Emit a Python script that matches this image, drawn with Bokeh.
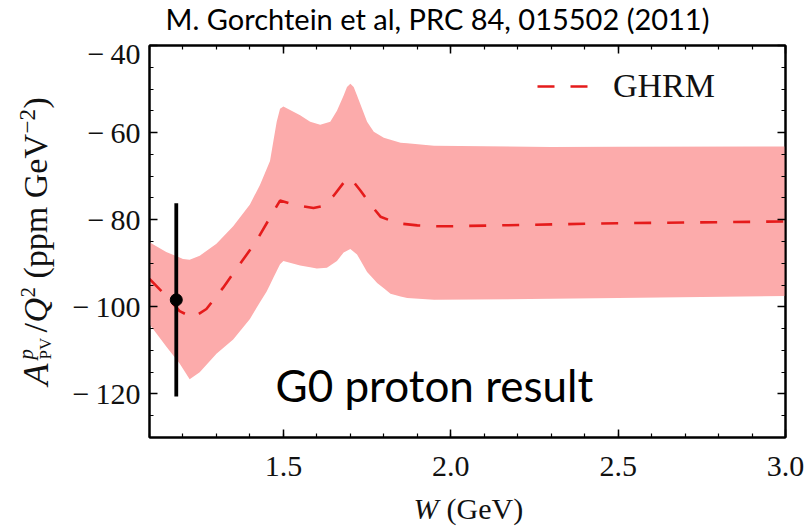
import numpy as np
from bokeh.plotting import figure
from bokeh.layouts import column, row
from bokeh.models import (LinearAxis, SingleIntervalTicker, CustomJSTickFormatter,
                          NumeralTickFormatter, Label, Legend, LegendItem, ColumnDataSource)
from bokeh.embed import file_html
from bokeh.resources import INLINE

# ---------------- data ----------------
band_upper_w = [1.10, 1.15, 1.20, 1.22, 1.25, 1.30, 1.35, 1.40, 1.43, 1.46, 1.47, 1.48, 1.49, 1.50,
                1.55, 1.58, 1.61, 1.64, 1.66, 1.68, 1.69, 1.70, 1.71, 1.73, 1.75, 1.77, 1.80,
                1.85, 1.95, 2.30, 3.00]
band_upper = [-85.2, -87.4, -89.0, -89.2, -88.3, -85.5, -81.5, -76.5, -72.0, -66.5, -62.0, -57.5, -54.5, -54.0,
              -56.0, -57.5, -58.2, -57.5, -55.0, -51.5, -49.5, -48.8, -49.5, -53.5, -57.5, -59.8, -61.2,
              -62.3, -63.0, -63.3, -63.2]

band_lower_w = [1.10, 1.15, 1.19, 1.22, 1.25, 1.30, 1.35, 1.40, 1.42, 1.45, 1.49, 1.50, 1.55, 1.60,
                1.63, 1.66, 1.68, 1.70, 1.72, 1.75, 1.78, 1.82, 1.87, 1.95, 2.50, 3.00]
band_lower = [-104.0, -109.1, -113.0, -116.6, -115.0, -110.8, -107.5, -102.8, -100.2, -96.5, -90.2, -89.5, -90.5, -91.2,
              -91.0, -89.5, -87.5, -86.7, -88.0, -92.0, -94.5, -97.0, -98.0, -98.4, -98.0, -97.5]

ghrm_w = [1.10, 1.15, 1.19, 1.23, 1.27, 1.32, 1.37, 1.42, 1.46, 1.49, 1.52, 1.55, 1.59, 1.62,
          1.65, 1.68, 1.70, 1.73, 1.76, 1.79, 1.84, 1.90, 1.96, 2.00, 2.50, 3.00]
ghrm = [-93.6, -97.5, -101.0, -102.5, -100.5, -95.6, -90.2, -84.8, -79.5, -75.6, -76.3, -76.8, -77.3, -76.8,
        -74.5, -71.5, -70.4, -73.3, -76.5, -79.3, -80.8, -81.3, -81.5, -81.5, -80.8, -80.4]

g0_w = [1.18]
g0_val = [-98.4]
g0_err = [22.2]

x_ticks_interval = 0.5
y_ticks_interval = 20

title_text = "M. Gorchtein et al, PRC 84, 015502 (2011)"
note_text = "G0 proton result"
legend_text = "GHRM"

serif = "Liberation Serif"
sans = "Lato"

# ---------------- layout sizes ----------------
TOTAL_W = 804
TITLE_H = 36
MAIN_H = 454
XLAB_H = 38
YLAB_W = 58


def text_panel(w, h):
    f = figure(width=w, height=h, x_range=(0, 1), y_range=(0, 1),
               x_axis_location=None, y_axis_location=None,
               output_backend="svg", toolbar_location=None, min_border=0,
               outline_line_color=None, background_fill_color="white",
               border_fill_color="white")
    f.grid.visible = False
    return f


def lab(fig, x, y, text, font=serif, size="34px", style="normal", angle=0.0,
        align="left", baseline="alphabetic", color="#111111"):
    fig.add_layout(Label(x=x, y=y, x_units="screen", y_units="screen", text=text,
                         text_font=font, text_font_size=size, text_font_style=style,
                         text_align=align, text_baseline=baseline, angle=angle,
                         text_color=color))


# ---------------- main figure ----------------
p = figure(width=TOTAL_W - YLAB_W, height=MAIN_H, x_range=(1.1, 3.0), y_range=(-130, -40),
           output_backend="svg", toolbar_location=None,
           min_border_left=91, min_border_right=19, min_border_top=9, min_border_bottom=53,
           background_fill_color="white", border_fill_color="white")
p.xgrid.grid_line_color = None
p.ygrid.grid_line_color = None
p.outline_line_color = "black"
p.outline_line_width = 2

wgrid = sorted(set(band_upper_w) | set(band_lower_w))
up_i = np.interp(wgrid, band_upper_w, band_upper)
lo_i = np.interp(wgrid, band_lower_w, band_lower)
p.varea(x=wgrid, y1=lo_i, y2=up_i, fill_color="#fcabab", fill_alpha=1.0)

line_r = p.line(ghrm_w, ghrm, line_color="#e51b1b", line_width=2.6, line_dash="17 16")

err_src = ColumnDataSource(dict(x=g0_w, y=g0_val,
                                lo=[v - e for v, e in zip(g0_val, g0_err)],
                                hi=[v + e for v, e in zip(g0_val, g0_err)]))
p.segment(x0="x", y0="lo", x1="x", y1="hi", source=err_src, line_color="black", line_width=3.8)
p.scatter(x="x", y="y", source=err_src, size=12, fill_color="black", line_color="black")


def style_axis(ax, show_labels):
    ax.axis_line_color = "black"
    ax.axis_line_width = 2
    ax.major_tick_line_color = "black"
    ax.minor_tick_line_color = "black"
    ax.major_tick_line_width = 1.5
    ax.minor_tick_line_width = 1.2
    ax.major_tick_in = 8
    ax.major_tick_out = 0
    ax.minor_tick_in = 4
    ax.minor_tick_out = 0
    ax.major_label_text_font = serif
    ax.major_label_text_color = "#111111"
    if show_labels:
        ax.major_label_text_font_size = "30px"
    else:
        ax.formatter = CustomJSTickFormatter(code="return '';")
        ax.major_label_text_font_size = "1px"
        ax.major_label_standoff = 0


p.xaxis.ticker = SingleIntervalTicker(interval=x_ticks_interval, num_minor_ticks=5)
p.yaxis.ticker = SingleIntervalTicker(interval=y_ticks_interval, num_minor_ticks=4)
p.xaxis.formatter = NumeralTickFormatter(format="0.0")
p.yaxis.formatter = CustomJSTickFormatter(
    code="return (tick < 0 ? '\u2212\u2009' : '') + Math.abs(tick).toFixed(0);")
style_axis(p.xaxis[0], True)
style_axis(p.yaxis[0], True)
p.xaxis.major_label_standoff = 19
p.yaxis.major_label_standoff = 9

top_ax = LinearAxis(ticker=SingleIntervalTicker(interval=x_ticks_interval, num_minor_ticks=5))
right_ax = LinearAxis(ticker=SingleIntervalTicker(interval=y_ticks_interval, num_minor_ticks=4))
style_axis(top_ax, False)
style_axis(right_ax, False)
p.add_layout(top_ax, "above")
p.add_layout(right_ax, "right")

# annotation inside the frame
lab(p, 126, 53, note_text, font=sans, size="44px", color="black")

# legend
leg = Legend(items=[LegendItem(label=legend_text, renderers=[line_r])],
             location=(388, 332), orientation="vertical",
             glyph_width=58, glyph_height=30, label_height=30, label_standoff=18,
             padding=0, margin=0, border_line_color=None, background_fill_alpha=0,
             label_text_font=serif, label_text_font_size="34px", label_text_color="#111111")
p.add_layout(leg, "center")

# ---------------- title panel ----------------
ft = text_panel(TOTAL_W, TITLE_H)
lab(ft, 437, 18, title_text, font=sans, size="29px", align="center", color="black")

# ---------------- y label panel (rotated, built from pieces) ----------------
fy = text_panel(YLAB_W, MAIN_H)
a = np.pi / 2
bx = 35
lab(fy, 35, 52, "A", size="36px", style="italic", angle=a)
lab(fy, 25, 78, "p", size="21px", style="italic", angle=a)
lab(fy, 45, 78, "PV", size="17px", angle=a)
lab(fy, bx, 105, "/", size="34px", angle=a)
lab(fy, bx, 115, "Q", size="34px", style="italic", angle=a)
lab(fy, 27, 140, "2", size="21px", angle=a)
lab(fy, bx, 159, "(ppm GeV", size="34px", angle=a)
lab(fy, 27, 304, "\u22122", size="23px", angle=a)
lab(fy, bx, 329, ")", size="34px", angle=a)

# ---------------- x label panel ----------------
fx = text_panel(TOTAL_W, XLAB_H)
lab(fx, 413, 20, "W", size="30px", style="italic")
lab(fx, 446, 20, "(GeV)", size="30px")

layout = column(ft, row(fy, p), fx)

open("out.html", "w").write(file_html(layout, INLINE))
